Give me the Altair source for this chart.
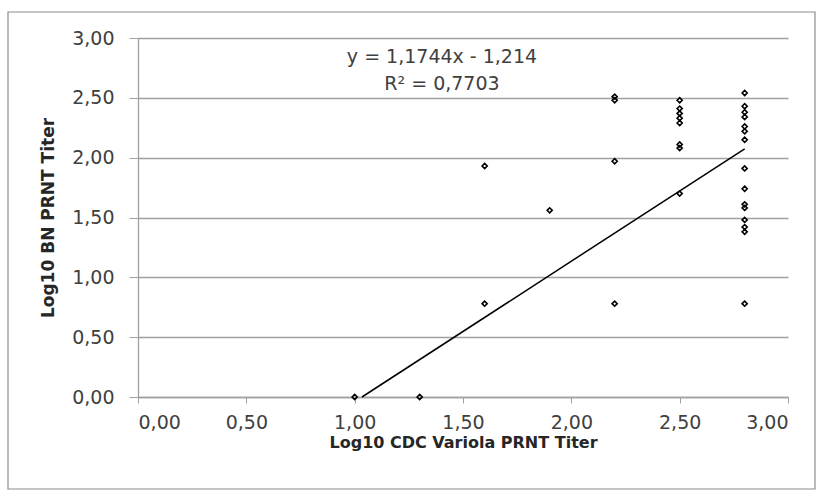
import altair as alt
import pandas as pd

# ---- data ----
x_vals = [1.0, 1.3, 1.6, 1.6, 1.9,
          2.2, 2.2, 2.2, 2.2,
          2.5, 2.5, 2.5, 2.5, 2.5, 2.5, 2.5, 2.5,
          2.8, 2.8, 2.8, 2.8, 2.8, 2.8, 2.8, 2.8, 2.8, 2.8, 2.8, 2.8, 2.8, 2.8, 2.8]
y_vals = [0.0, 0.0, 1.93, 0.78, 1.56,
          2.51, 2.48, 1.97, 0.78,
          2.48, 2.41, 2.37, 2.33, 2.29, 2.11, 2.08, 1.70,
          2.54, 2.43, 2.38, 2.34, 2.26, 2.22, 2.15, 1.91, 1.74, 1.61, 1.58, 1.48, 1.42, 1.38, 0.78]
slope = 1.1744
intercept = -1.214
r2 = 0.7703
eq_lines = ["y = 1,1744x - 1,214", "R² = 0,7703"]
eq_x = [1.403, 1.403]
eq_y = [2.843, 2.615]
tick_vals = [0.0, 0.5, 1.0, 1.5, 2.0, 2.5, 3.0]

pts = pd.DataFrame({"x": x_vals, "y": y_vals})
x_start = -intercept / slope
x_end = max(x_vals)
trend = pd.DataFrame({"x": [x_start, x_end],
                      "y": [slope * x_start + intercept, slope * x_end + intercept]})
ann = pd.DataFrame({"x": eq_x, "y": eq_y, "t": eq_lines})

FONT = "DejaVu Sans"
GRID = "#a0a0a0"
label_expr = "replace(format(datum.value, '.2f'), '.', ',')"

xscale = alt.Scale(domain=[0, 3], nice=False, zero=False)
yscale = alt.Scale(domain=[0, 3], nice=False, zero=False)

xaxis = alt.Axis(values=tick_vals, labelExpr=label_expr, grid=False,
                 title="Log10 CDC Variola PRNT Titer", tickSize=6, labelPadding=10,
                 titlePadding=2, domainColor=GRID, tickColor=GRID, domainWidth=1.3)
yaxis = alt.Axis(values=tick_vals, labelExpr=label_expr, grid=True, gridColor=GRID,
                 gridWidth=1.3, title="Log10 BN PRNT Titer", tickSize=9, labelPadding=15,
                 titlePadding=14, titleFontSize=17, domainColor=GRID, tickColor=GRID,
                 domainWidth=1.3)

points = alt.Chart(pts).mark_point(shape="diamond", filled=False, color="black",
                                   size=26, strokeWidth=1.6, opacity=1).encode(
    x=alt.X("x:Q", scale=xscale, axis=xaxis),
    y=alt.Y("y:Q", scale=yscale, axis=yaxis),
)

line = alt.Chart(trend).mark_line(color="black", strokeWidth=1.5).encode(
    x=alt.X("x:Q", scale=xscale),
    y=alt.Y("y:Q", scale=yscale),
)

text = alt.Chart(ann).mark_text(font=FONT, fontSize=19, color="#404040",
                                align="center", baseline="middle").encode(
    x=alt.X("x:Q", scale=xscale),
    y=alt.Y("y:Q", scale=yscale),
    text="t:N",
)

border = alt.Chart(pd.DataFrame({"a": [0]})).mark_rect(
    filled=False, stroke="#8c8c8c", strokeWidth=1.2, clip=False).encode(
    x=alt.value(-130), x2=alt.value(677), y=alt.value(-26), y2=alt.value(451))

chart = alt.layer(border, line, points, text).properties(
    width=650, height=359,
    autosize=alt.AutoSizeParams(type="none"),
    padding={"left": 138, "top": 38, "right": 34, "bottom": 101},
).configure_view(stroke=None).configure_axis(
    labelFont=FONT, labelFontSize=19, labelColor="#404040",
    titleFont=FONT, titleFontSize=16, titleFontWeight="bold", titleColor="#262626",
)

chart.save("out.html", embed_options={"renderer": "svg", "actions": False})
